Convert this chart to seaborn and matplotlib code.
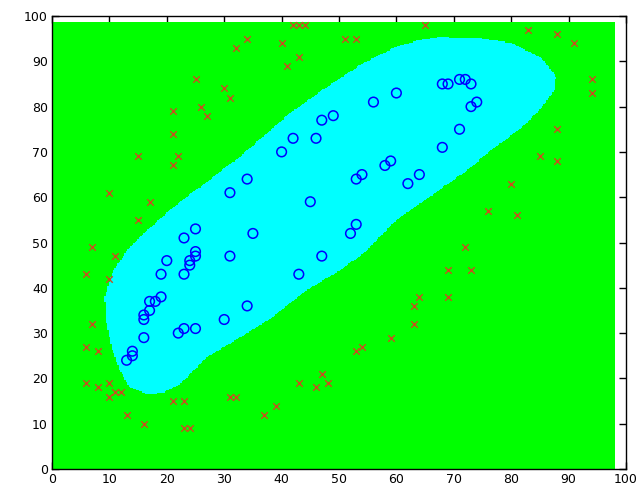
import numpy as np
import matplotlib
matplotlib.use("Agg")
import matplotlib.pyplot as plt
from matplotlib.colors import ListedColormap
from matplotlib.path import Path
import seaborn as sns

# positive class (blue circles)
pos_x = [49, 47, 42, 46, 40, 34, 31, 45, 25, 23, 35,
         56, 60, 68, 69, 71, 72, 73, 74, 73, 71, 68, 58, 59, 62, 64, 53, 54, 52, 53,
         31, 47, 20, 25, 24, 25, 24, 19, 23, 43, 19, 18, 17, 17, 16, 16, 34, 30,
         23, 22, 25, 16, 14, 14, 13]
pos_y = [78, 77, 73, 73, 70, 64, 61, 59, 53, 51, 52,
         81, 83, 85, 85, 86, 86, 85, 81, 80, 75, 71, 67, 68, 63, 65, 64, 65, 52, 54,
         47, 47, 46, 48, 46, 47, 45, 43, 43, 43, 38, 37, 37, 35, 34, 33, 36, 33,
         31, 30, 31, 29, 26, 25, 24]

# negative class (red crosses)
neg_x = [42, 43, 44, 32, 34, 40, 41, 43, 25, 30, 31, 21, 26, 27, 21, 15, 22, 21, 10, 17, 15, 7,
         51, 53, 65, 83, 88, 91, 94, 94, 88, 85, 88, 80, 76, 81, 72,
         11, 6, 10, 7, 6, 8, 6, 8, 10, 10, 11, 12, 13, 16, 21, 23, 23, 24, 31, 32,
         37, 39, 43, 46, 47, 48,
         53, 54, 59, 63, 63, 64, 69, 69, 73]
neg_y = [98, 98, 98, 93, 95, 94, 89, 91, 86, 84, 82, 79, 80, 78, 74, 69, 69, 67, 61, 59, 55, 49,
         95, 95, 98, 97, 96, 94, 86, 83, 75, 69, 68, 63, 57, 56, 49,
         47, 43, 42, 32, 27, 26, 19, 18, 19, 16, 17, 17, 12, 10, 15, 15, 9, 9, 16, 16,
         12, 14, 19, 18, 21, 19,
         26, 27, 29, 32, 36, 38, 38, 44, 44]

# decision boundary outline
bound_x = [15.9, 21.1, 32.7, 41.4, 48.3, 54.1, 59.9, 64.0, 67.5, 74.4, 80.2, 85.4, 87.8,
           87.5, 85.4, 82.0, 77.3, 71.5, 65.7, 59.9, 54.5, 50.1, 44.3, 38.5, 32.7, 26.9,
           22.3, 19.4, 16.5, 13.6, 11.8, 10.4, 9.5, 9.2, 10.4, 13.0]
bound_y = [51.9, 57.8, 68.9, 78.5, 84.7, 89.5, 93.2, 94.7, 95.3, 95.1, 94.0, 90.6, 86.6,
           83.6, 79.9, 75.5, 71.1, 65.2, 60.0, 54.9, 47.8, 43.8, 39.4, 33.5, 29.0, 24.6,
           18.7, 16.9, 16.5, 18.0, 21.7, 26.8, 32.0, 37.9, 43.1, 48.2]

# evaluation grid of the classifier
grid_x = np.arange(0, 98.01, 0.25)
grid_y = np.arange(0, 98.51, 0.25)

sns.set_style("white")
plt.rcParams["font.family"] = ["DejaVu Sans"]

fig = plt.figure(figsize=(6.44, 4.91), dpi=100)
ax = fig.add_axes([52 / 644, 22 / 491, 574 / 644, 453 / 491])

gx, gy = np.meshgrid(grid_x, grid_y)
region = Path(np.column_stack([bound_x, bound_y]))
inside = region.contains_points(np.column_stack([gx.ravel(), gy.ravel()])).reshape(gx.shape)
ax.pcolormesh(grid_x, grid_y, inside.astype(int), shading="nearest",
              cmap=ListedColormap(["#00ff00", "#00ffff"]), vmin=0, vmax=1,
              rasterized=True)

sns.scatterplot(x=neg_x, y=neg_y, marker="x", s=22, color="#c8501e",
                linewidth=1.0, ax=ax, zorder=3)
sns.scatterplot(x=pos_x, y=pos_y, marker="o", s=48, facecolor="none",
                edgecolor="#0000ff", linewidth=1.1, ax=ax, zorder=4)

ax.set_xlim(0, 100)
ax.set_ylim(0, 100)
ax.set_xticks(range(0, 101, 10))
ax.set_yticks(range(0, 101, 10))
ax.tick_params(direction="in", length=5, width=1, colors="black", labelsize=9,
               top=True, right=True, bottom=True, left=True, pad=3)
for sp in ax.spines.values():
    sp.set_color("black")
    sp.set_linewidth(1.0)
    sp.set_visible(True)

fig.savefig("out.png", dpi=100)
